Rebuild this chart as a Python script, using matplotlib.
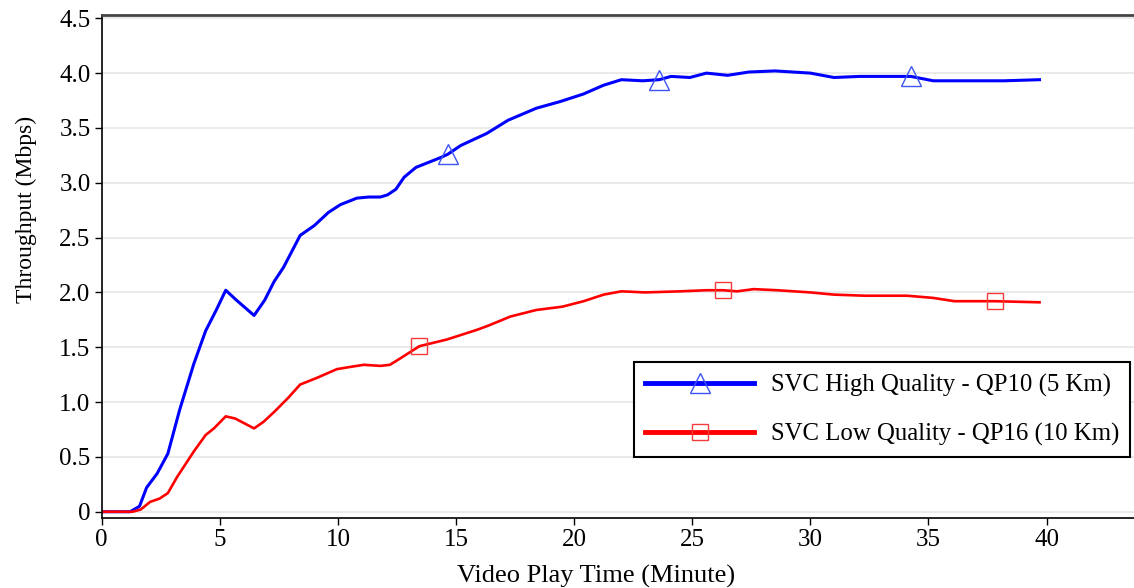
import numpy as np
import matplotlib
matplotlib.use("Agg")
import matplotlib.pyplot as plt
from matplotlib.ticker import FuncFormatter

# Throughput over play time
high_x = [0, 1.2, 1.6, 1.9, 2.35, 2.8, 3.3, 3.9, 4.4, 4.85, 5.25, 5.7, 6.45, 6.9, 7.3, 7.7,
          8.4, 9.0, 9.6, 10.1, 10.8, 11.3, 11.8, 12.1, 12.45, 12.8, 13.3, 14.35, 14.65, 15.2,
          16.3, 17.2, 18.4, 19.4, 20.4, 21.25, 22.0, 22.9, 23.6, 24.1, 24.9, 25.6, 26.5, 27.4,
          28.5, 30.0, 31.0, 32.1, 33.7, 34.25, 35.2, 36.8, 38.2, 39.7]
high_y = [0, 0, 0.05, 0.22, 0.35, 0.53, 0.93, 1.35, 1.65, 1.84, 2.02, 1.93, 1.79, 1.93, 2.10, 2.23,
          2.52, 2.61, 2.73, 2.80, 2.86, 2.87, 2.87, 2.89, 2.94, 3.05, 3.14, 3.23, 3.26, 3.34,
          3.45, 3.57, 3.68, 3.74, 3.81, 3.89, 3.94, 3.93, 3.94, 3.97, 3.96, 4.00, 3.98, 4.01,
          4.02, 4.00, 3.96, 3.97, 3.97, 3.97, 3.93, 3.93, 3.93, 3.94]
high_marks = [28, 38, 49]  # indices carrying a triangle

low_x = [0, 1.3, 1.65, 2.05, 2.45, 2.8, 3.2, 3.9, 4.4, 4.75, 5.25, 5.65, 6.45, 6.85, 7.3, 7.9,
         8.4, 9.1, 9.95, 10.5, 11.1, 11.8, 12.2, 12.65, 13.45, 14.6, 15.9, 16.4, 17.3, 18.4,
         19.5, 20.4, 21.25, 22.0, 23.0, 24.5, 25.6, 26.3, 26.9, 27.6, 28.6, 30.0, 31.0, 32.3,
         34.1, 35.2, 36.1, 37.8, 39.7]
low_y = [0, 0, 0.02, 0.09, 0.12, 0.17, 0.32, 0.55, 0.70, 0.76, 0.87, 0.85, 0.76, 0.82, 0.91, 1.04,
         1.16, 1.22, 1.30, 1.32, 1.34, 1.33, 1.34, 1.40, 1.51, 1.57, 1.66, 1.70, 1.78, 1.84,
         1.87, 1.92, 1.98, 2.01, 2.00, 2.01, 2.02, 2.02, 2.01, 2.03, 2.02, 2.00, 1.98, 1.97,
         1.97, 1.95, 1.92, 1.92, 1.91]
low_marks = [24, 37, 47]  # indices carrying a square

high_label = "SVC High Quality - QP10 (5 Km)"
low_label = "SVC Low Quality - QP16 (10 Km)"
x_ticks = [0, 5, 10, 15, 20, 25, 30, 35, 40]
y_ticks = [0, 0.5, 1.0, 1.5, 2.0, 2.5, 3.0, 3.5, 4.0, 4.5]

plt.rcParams["font.family"] = ["Liberation Serif", "DejaVu Serif"]

fig = plt.figure(figsize=(11.34, 5.88), dpi=100)
ax = fig.add_axes([0.0897, 0.1185, 0.9103, 0.856])

ax.plot(high_x, high_y, color="#0000ff", lw=2.2, label=high_label,
        marker="^", markevery=high_marks, markersize=14, markerfacecolor="none",
        markeredgecolor="#3d55f5", markeredgewidth=1.0)
ax.plot(low_x, low_y, color="#ff0000", lw=1.9, label=low_label,
        marker="s", markevery=low_marks, markersize=11, markerfacecolor="none",
        markeredgecolor="#f23c3c", markeredgewidth=1.0)

ax.set_xlim(0, 43.7)
ax.set_ylim(-0.06, 4.53)
ax.set_xticks(x_ticks)
ax.set_yticks(y_ticks)
ax.yaxis.set_major_formatter(FuncFormatter(lambda v, _: "0" if v == 0 else f"{v:.1f}"))
ax.tick_params(axis="both", labelsize=18, length=5, width=1, pad=3, direction="out")

# only horizontal light grid lines
ax.grid(axis="y", color="#e6e6e6", lw=1.2)
ax.set_axisbelow(True)

for side in ["left", "bottom"]:
    ax.spines[side].set_color("black")
    ax.spines[side].set_linewidth(1.2)
ax.spines["top"].set_color("#444444")
ax.spines["top"].set_linewidth(2.0)
ax.spines["right"].set_visible(False)

ax.set_xlabel("Video Play Time (Minute)", fontsize=19)
ax.xaxis.set_label_coords(0.4785, -0.093)
ax.set_ylabel("Throughput (Mbps)", fontsize=17)
ax.yaxis.set_label_coords(-0.063, 0.613)

leg = ax.legend(loc="upper left", bbox_to_anchor=(634 / 1134, 1 - 363 / 588, 496 / 1134, 0.001),
                bbox_transform=fig.transFigure, mode="expand", borderaxespad=0,
                fontsize=17.8, handlelength=4.4, handletextpad=0.7, labelspacing=1.05,
                borderpad=0.45, numpoints=1, fancybox=False, framealpha=1)
leg.get_frame().set_edgecolor("black")
leg.get_frame().set_linewidth(1.5)
for handle in leg.legend_handles:
    handle.set_linewidth(3.5)

fig.savefig("out.png", dpi=100)
